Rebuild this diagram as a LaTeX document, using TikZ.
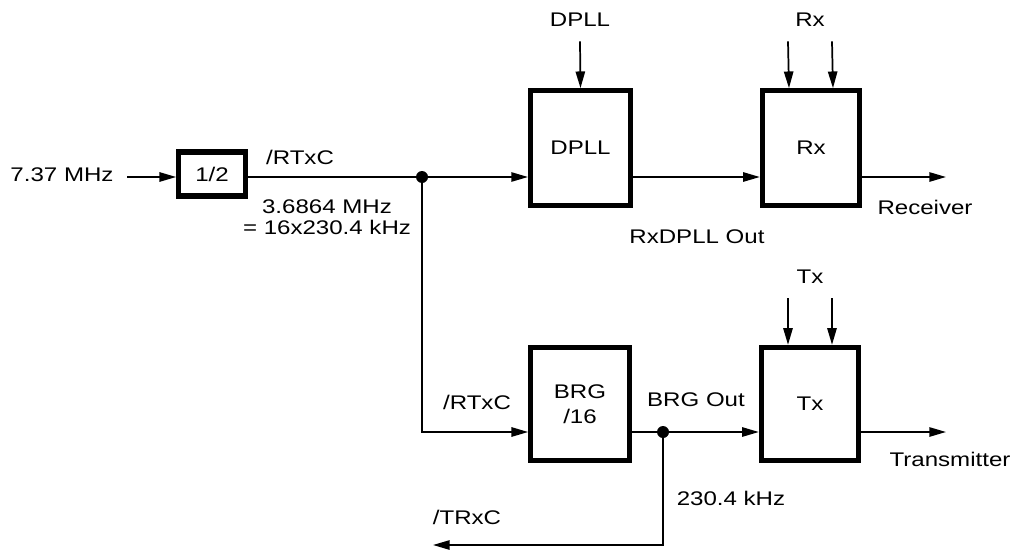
\documentclass[tikz,border=0pt]{standalone}
\usepackage{fontspec}
\setmainfont{Liberation Sans}[FakeStretch=1.22]
\usetikzlibrary{arrows.meta}
\begin{document}
\begin{tikzpicture}[x=0.75pt,y=-0.75pt,
  every node/.style={font=\fontsize{14.8}{18.75}\selectfont, inner sep=1pt},
  blockbox/.style={draw, line width=3.8pt, rectangle, inner sep=0pt, align=center},
  wire/.style={line width=1.3pt},
  arr/.style={wire, -{Triangle[length=12.5pt,width=7pt]}},
  dotmark/.style={circle, fill, inner sep=0pt, minimum size=9pt}
]
\useasboundingbox (0,0) rectangle (1018,550);

% blocks
\node[blockbox, minimum width=50pt, minimum height=33pt] (half) at (212,174) {1/2};
\node[blockbox, minimum width=75pt, minimum height=86pt] (dpll) at (580.5,148) {DPLL};
\node[blockbox, minimum width=73pt, minimum height=86pt] (rx) at (811,148) {Rx};
\node[blockbox, minimum width=74pt, minimum height=85pt] (brg) at (580,404) {BRG\\/16};
\node[blockbox, minimum width=73pt, minimum height=85pt] (tx) at (810,404) {Tx};

% junctions
\node[dotmark] (dot) at (422,177) {};
\node[dotmark] (dot2) at (663,432) {};
\coordinate (bl) at (422,432);
\coordinate (recv) at (946,177);
\coordinate (xmit) at (946,432);
\coordinate (trxc) at (433,545);

% labels
\node (in) at (62,175) {7.37 MHz};
\node (l1) at (300,157) {/RTxC};
\node (l2) at (327,207) {3.6864 MHz};
\node (l3) at (327,227) {= 16x230.4 kHz};
\node (dpllin) at (580,20) {DPLL};
\node (rxin) at (810,20) {Rx};
\node (l4) at (697,237) {RxDPLL Out};
\node (l5) at (925,207) {Receiver};
\node (txin) at (810,277) {Tx};
\node (l6) at (477,402) {/RTxC};
\node (l7) at (696,400) {BRG Out};
\node (l8) at (950,459) {Transmitter};
\node (l9) at (731,498) {230.4 kHz};
\node (l10) at (467,517) {/TRxC};

% top path
\draw[arr] ([xshift=9pt]in.east |- dot) -- (half.west |- dot);
\draw[wire] (half.east |- dot) -- (dot.center);
\draw[arr] (dot.center) -- (dpll.west |- dot);
\draw[arr] (dpll.east |- dot) -- (rx.west |- dot);
\draw[arr] (rx.east |- dot) -- (recv);

% control inputs
\draw[arr] ([yshift=-16pt]dpllin.center) -- (dpll.north);
\draw[arr] ([xshift=-16.5pt,yshift=-16pt]rxin.center) -- ([xshift=-16.5pt]rx.north);
\draw[arr] ([xshift=16.5pt,yshift=-16pt]rxin.center) -- ([xshift=16.5pt]rx.north);
\draw[arr] ([xshift=-16.5pt,yshift=-16pt]txin.center) -- ([xshift=-16.5pt]tx.north);
\draw[arr] ([xshift=16.5pt,yshift=-16pt]txin.center) -- ([xshift=16.5pt]tx.north);

% bottom path
\draw[arr] (dot.center) -- (bl) -- (brg.west |- bl);
\draw[wire] (brg.east |- bl) -- (dot2.center);
\draw[arr] (dot2.center) -- (tx.west |- bl);
\draw[arr] (tx.east |- bl) -- (xmit);
\draw[arr] (dot2.center) |- (trxc);
\end{tikzpicture}
\end{document}
